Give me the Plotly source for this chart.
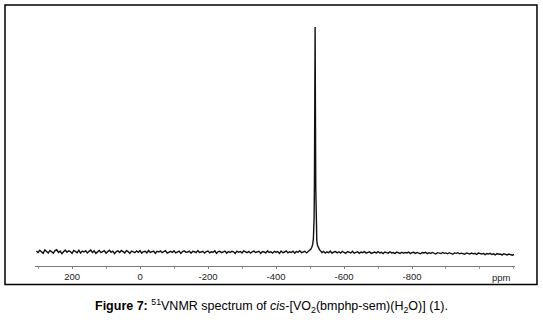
import plotly.graph_objects as go

# ---- data ----
LEFT_START_PPM = 305.0
RIGHT_START_PPM = -535.0
PPM_STEP = 5.0

left_baseline = [
    0.5, -0.3, 0.8, 0.1, -0.6, 0.9, 0.2, -0.4, 0.7, 0.0,
    -0.5, 0.6, 1.0, -0.2, 0.4, -0.7, 0.3, 0.9, -0.1, 0.5,
    0.2, -0.6, 0.7, 0.1, -0.3, 0.8, -0.5, 0.4, 0.0, 0.6,
    -0.4, 0.3, 0.9, -0.2, 0.5, -0.6, 0.2, 0.7, -0.3, 0.1,
    0.6, -0.5, 0.3, 0.8, -0.1, 0.4, -0.7, 0.2, 0.5, -0.2,
    0.7, 0.0, -0.4, 0.6, 0.2, -0.6, 0.4, 0.1, -0.3, 0.5,
    -0.1, 0.6, -0.5, 0.2, 0.3, -0.4, 0.7, -0.2, 0.1, 0.4,
    -0.6, 0.3, 0.0, 0.5, -0.3, 0.2, 0.6, -0.5, 0.1, 0.3,
    -0.2, 0.5, -0.4, 0.1, 0.4, -0.6, 0.2, 0.5, -0.1, 0.0,
    0.4, -0.5, 0.3, 0.1, -0.3, 0.6, -0.2, 0.0, 0.3, -0.5,
    0.2, 0.4, -0.4, 0.1, -0.1, 0.5, -0.6, 0.2, 0.3, -0.3,
    0.0, 0.4, -0.5, 0.2, -0.2, 0.3, 0.1, -0.6, 0.4, -0.1,
    0.2, -0.4, 0.5, 0.0, -0.3, 0.3, -0.5, 0.1, 0.4, -0.2,
    -0.1, 0.3, -0.6, 0.2, 0.0, -0.4, 0.5, -0.2, 0.1, -0.5,
    0.3, -0.1, 0.2, -0.6, 0.4, -0.3, 0.0, 0.5, -0.4, 0.1,
    -0.2, 0.4, -0.5, 0.2, -0.1, 0.6, -0.3, 0.0, 0.3, -0.4,
    0.2,
]

peak_ppm = [-498, -502, -505, -508, -510, -511, -512, -513, -514, -515,
            -516, -517, -518, -519, -520, -522, -525, -528, -532]
peak_intensity = [0.6, 1.2, 2.0, 3.5, 6.0, 9.0, 15.0, 30.0, 65.0, 100.0,
                  62.0, 28.0, 14.0, 8.0, 5.0, 3.0, 1.8, 1.0, 0.4]

right_baseline = [
    -0.2, 0.3, -0.5, 0.1, -0.3, 0.4, -0.6, 0.0, 0.2, -0.4,
    0.1, -0.5, 0.3, -0.2, -0.6, 0.2, -0.1, -0.4, 0.3, -0.5,
    -0.2, 0.1, -0.6, 0.0, -0.3, 0.2, -0.5, -0.1, 0.1, -0.6,
    -0.3, 0.0, -0.5, 0.2, -0.4, -0.1, -0.7, 0.0, -0.3, -0.5,
    0.1, -0.4, -0.2, -0.7, 0.0, -0.3, -0.6, -0.1, -0.5, -0.2,
    -0.4, 0.0, -0.7, -0.3, -0.1, -0.6, -0.2, -0.5, -0.8, -0.2,
    -0.4, -0.1, -0.7, -0.3, -0.6, -0.2, -0.5, -0.9, -0.3, -0.4,
    -0.7, -0.2, -0.6, -0.4, -0.8, -0.3, -0.5, -1.0, -0.4, -0.6,
    -0.3, -0.8, -0.5, -0.7, -1.0, -0.4, -0.6, -0.9, -0.5, -0.8,
    -0.6, -1.1, -0.5, -0.7, -0.9, -0.6, -1.2, -0.7, -0.9, -0.6,
    -1.1, -0.8, -1.3, -0.7, -1.0, -0.9, -1.4, -0.8, -1.1, -1.3,
    -0.9, -1.2, -1.4, -1.1,
]

tick_values = [200, 0, -200, -400, -600, -800]
tick_labels = ["200", "0", "-200", "-400", "-600", "-800"]

# ---- assemble spectrum ----
left_ppm = [LEFT_START_PPM - PPM_STEP * i for i in range(len(left_baseline))]
right_ppm = [RIGHT_START_PPM - PPM_STEP * i for i in range(len(right_baseline))]
ppm = left_ppm + peak_ppm + right_ppm
intensity = left_baseline + peak_intensity + right_baseline

fig = go.Figure()
fig.add_trace(go.Scatter(x=ppm, y=intensity, mode="lines",
                         line=dict(color="#111111", width=1.4),
                         hoverinfo="skip", showlegend=False))

font_family = "Liberation Sans, Arial, sans-serif"

fig.update_layout(
    width=543, height=320,
    margin=dict(l=35, r=28, t=10, b=54),
    paper_bgcolor="white", plot_bgcolor="white",
    font=dict(family=font_family, color="#222"),
    xaxis=dict(
        range=[309, -1103], showgrid=False, zeroline=False,
        showline=True, linecolor="#777", linewidth=1,
        ticks="outside", ticklen=2, tickcolor="#777",
        tickvals=tick_values, ticktext=tick_labels,
        tickfont=dict(size=9.5, color="#222", family=font_family),
        minor=dict(dtick=100, ticks="outside", ticklen=2, tickcolor="#999"),
        fixedrange=True,
    ),
    yaxis=dict(range=[-6.22, 107.56], visible=False, fixedrange=True),
    shapes=[dict(type="rect", xref="paper", yref="paper",
                 x0=-0.0625, x1=1.0458, y0=-0.0723, y1=1.0195,
                 line=dict(color="black", width=1.5))],
    annotations=[
        dict(text="ppm", xref="paper", yref="paper", x=0.972, y=-0.043,
             xanchor="center", yanchor="middle",
             showarrow=False, font=dict(size=9.5, color="#222", family=font_family)),
        dict(text="<b>Figure 7:</b> <sup>51</sup>VNMR spectrum of <i>cis</i>-[VO<sub>2</sub>(bmphp-sem)(H<sub>2</sub>O)] (1).",
             xref="paper", yref="paper", x=0.4927, y=-0.158,
             xanchor="center", yanchor="middle",
             showarrow=False, font=dict(size=12.5, color="black", family=font_family)),
    ],
)

fig.write_html("out.html", config={"displayModeBar": False, "staticPlot": True})

# remove the default page margin so the figure sits at the window's top-left corner
with open("out.html", "r", encoding="utf-8") as f:
    html = f.read()
html = html.replace("<head>", "<head><style>html,body{margin:0;padding:0;overflow:hidden;}</style>", 1)
with open("out.html", "w", encoding="utf-8") as f:
    f.write(html)
